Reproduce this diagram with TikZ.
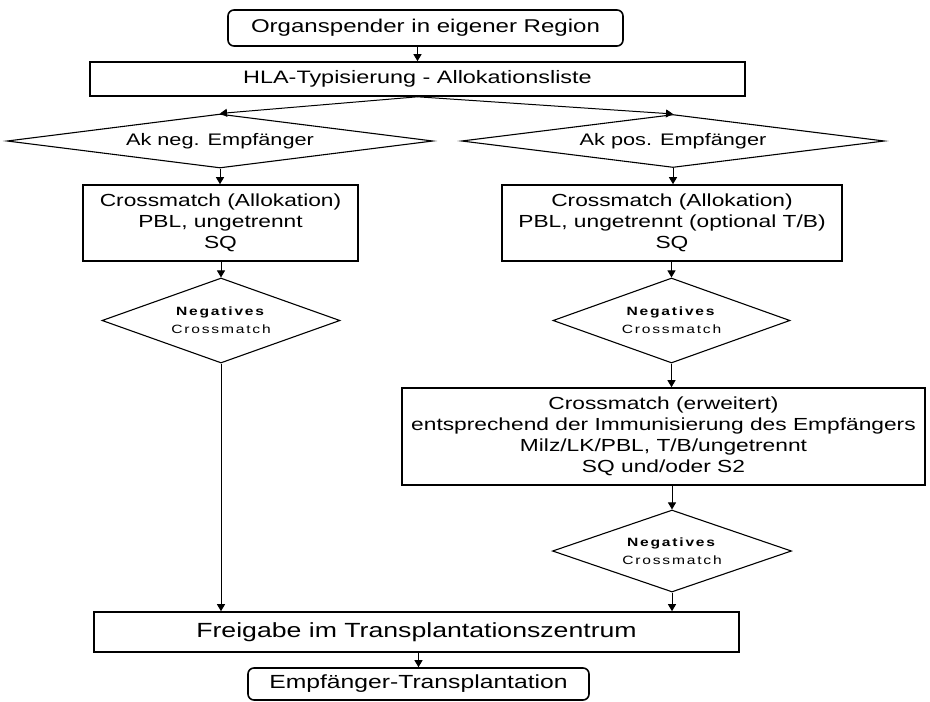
\documentclass[tikz,border=0pt]{standalone}
\usepackage{fontspec}
\setmainfont{Liberation Sans}[FakeStretch=1.3]
\newfontfamily\spacedfont{Liberation Sans}[FakeStretch=1.3,LetterSpace=15]
\usetikzlibrary{shapes.geometric,arrows.meta}

\begin{document}
\begin{tikzpicture}[x=1pt,y=-1pt,
  box/.style={draw,line width=1.6pt,inner sep=0pt,align=center,font=\fontsize{17.5}{21}\selectfont},
  endbox/.style={box,rounded corners=6pt},
  dec/.style={diamond,draw,line width=1.1pt,inner sep=0pt,align=center,aspect=7.9,font=\fontsize{16.7}{20}\selectfont},
  test/.style={dec,aspect=2.8,font=\spacedfont\fontsize{12}{18}\selectfont},
  arr/.style={-{Triangle[length=7pt,width=8pt]},line width=1pt}]
\useasboundingbox[fill=white] (0,0) rectangle (930,702);
\node[endbox,minimum width=395pt,minimum height=36pt,font=\fontsize{18.5}{21}\selectfont] (spender) at (425.5,28) {Organspender in eigener Region};
\node[box,minimum width=655pt,minimum height=34pt,font=\fontsize{18}{21}\selectfont] (hla) at (417.5,79) {HLA-Typisierung - Allokationsliste};
\node[dec,minimum width=426pt,minimum height=54pt] (neg) at (220,141) {Ak neg. Empfänger};
\node[dec,minimum width=423pt,minimum height=53pt] (pos) at (673,141) {Ak pos. Empfänger};
\node[box,minimum width=275pt,minimum height=76pt] (xneg) at (220.5,223) {Crossmatch (Allokation)\\PBL, ungetrennt\\SQ};
\node[box,minimum width=340pt,minimum height=76pt] (xpos) at (672,223) {Crossmatch (Allokation)\\PBL, ungetrennt (optional T/B)\\SQ};
\node[test,minimum width=238pt,minimum height=85pt] (tneg) at (221,320.5) {\textbf{Negatives}\\Crossmatch};
\node[test,minimum width=237pt,minimum height=85pt] (tpos) at (671.5,320.5) {\textbf{Negatives}\\Crossmatch};
\node[box,minimum width=523pt,minimum height=97pt] (xext) at (663.5,436.5) {Crossmatch (erweitert)\\entsprechend der Immunisierung des Empfängers\\Milz/LK/PBL, T/B/ungetrennt\\SQ und/oder S2};
\node[test,minimum width=239pt,minimum height=82pt] (tfin) at (672,551) {\textbf{Negatives}\\Crossmatch};
\node[box,minimum width=645pt,minimum height=40pt,font=\fontsize{20.5}{24}\selectfont] (frei) at (416.5,632) {Freigabe im Transplantationszentrum};
\node[endbox,minimum width=341pt,minimum height=32pt,font=\fontsize{19}{21}\selectfont] (empf) at (418.5,684) {Empfänger-Transplantation};
\draw[arr] (spender.south -| hla.north) -- (hla.north);
\draw[arr] (hla.south) -- (neg.north);
\draw[arr] (hla.south) -- (pos.north);
\draw[arr] (neg.south) -- (neg.south |- xneg.north);
\draw[arr] (pos.south) -- (pos.south |- xpos.north);
\draw[arr] (tneg.north |- xneg.south) -- (tneg.north);
\draw[arr] (tpos.north |- xpos.south) -- (tpos.north);
\draw[arr] (tpos.south) -- (tpos.south |- xext.north);
\draw[arr] (tfin.north |- xext.south) -- (tfin.north);
\draw[arr] (tneg.south) -- (tneg.south |- frei.north);
\draw[arr] (tfin.south) -- (tfin.south |- frei.north);
\draw[arr] (frei.south -| empf.north) -- (empf.north);
\end{tikzpicture}
\end{document}
